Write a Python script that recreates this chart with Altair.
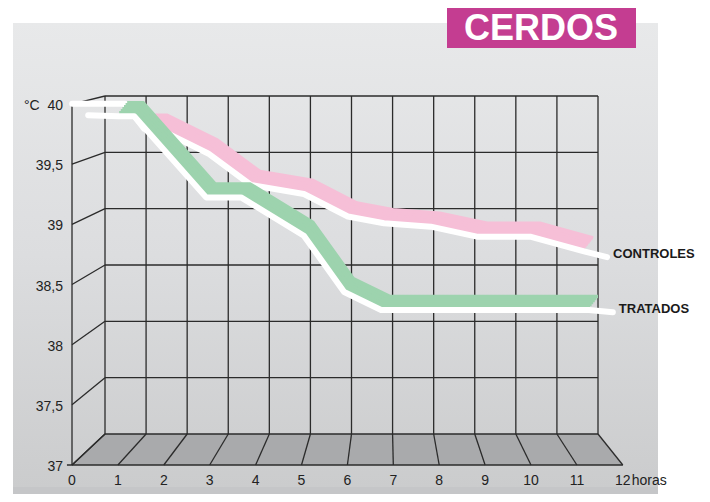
import altair as alt
import pandas as pd

# ---------------- data ----------------
HOURS = list(range(13))
HOUR_LABELS = [str(h) for h in HOURS]
TEMPS = [37.0, 37.5, 38.0, 38.5, 39.0, 39.5, 40.0]
TEMP_LABELS = ["37", "37,5", "38", "38,5", "39", "39,5", "40"]

# CONTROLES (pink ribbon), back edge on the rear wall
CTRL_H = [1.17, 1.51, 2.73, 3.77, 5.06, 6.13, 7.01, 8.15, 9.30, 10.59, 11.88]
CTRL_T = [39.83, 39.83, 39.61, 39.33, 39.25, 39.05, 38.99, 38.96, 38.87, 38.87, 38.74]
CTRL_LEAD_H = [-0.58, 0.71]
CTRL_LEAD_T = [40.05, 40.05]
CTRL_TRAIL_H = [12.44]
CTRL_TRAIL_T = [38.69]

# TRATADOS (green ribbon)
TRAT_H = [0.54, 0.93, 2.68, 3.53, 5.06, 6.04, 6.94, 12.0]
TRAT_T = [39.94, 39.94, 39.22, 39.22, 38.88, 38.38, 38.22, 38.22]
TRAT_LEAD_H = [-0.19]
TRAT_LEAD_T = [39.95]
TRAT_TRAIL_H = [12.58]
TRAT_TRAIL_T = [38.20]

SERIES_NAMES = ["CONTROLES", "TRATADOS"]

# ---------------- layout / style ----------------
W, H = 493, 338
XS, YS = W / 12.0, H / 3.0
FRONT_DX, FRONT_XS = -33.0, 45.9       # front plane (pixels rel. to rear wall)
FRONT_Y37, FRONT_YS = 369.0, 120.33

def front_h(h):
    return (FRONT_DX + FRONT_XS * h) / XS

def front_t(t):
    return 40 - (FRONT_Y37 - FRONT_YS * (t - 37)) / YS

FONT = "Liberation Sans"
GRID = "#2b2b2b"
PINK = "#f6bfd7"
GREEN = "#9dd3ae"
MAGENTA = "#c43d91"
FACE_DX, FACE_DY = -8.0, 10.0
WHITE_DX, WHITE_DY = -9.0, 13.5

XSCALE = alt.Scale(domain=[0, 12], nice=False, zero=False)
YSCALE = alt.Scale(domain=[37, 40], nice=False, zero=False)

def xenc(f):
    return alt.X(f"{f}:Q", scale=XSCALE, axis=None)

def yenc(f):
    return alt.Y(f"{f}:Q", scale=YSCALE, axis=None)

one = pd.DataFrame({"k": [0]})
layers = []

# panel background
grad = alt.LinearGradient(
    gradient="linear", x1=0, y1=0, x2=0, y2=1,
    stops=[alt.GradientStop(color="#e8e9ea", offset=0),
           alt.GradientStop(color="#dcdddf", offset=0.5),
           alt.GradientStop(color="#cbcccd", offset=1)])
layers.append(alt.Chart(one).mark_rect(color=grad).encode(
    x=alt.value(-92), x2=alt.value(553), y=alt.value(-73), y2=alt.value(391)))
layers.append(alt.Chart(one).mark_rect(color="#c5c6c8").encode(
    x=alt.value(-92), x2=alt.value(553), y=alt.value(391), y2=alt.value(400)))

# floor
floor = pd.DataFrame({
    "x": [front_h(0), 0, 12, front_h(12)],
    "y": [front_t(37), 37, 37, front_t(37)],
    "y2": [front_t(37)] * 4,
})
layers.append(alt.Chart(floor).mark_area(color="#a9aaac").encode(
    x=xenc("x"), y=yenc("y"), y2="y2:Q"))

# rear wall grid
vgrid = pd.DataFrame({"h": HOURS, "a": [37] * 13, "b": [40] * 13})
layers.append(alt.Chart(vgrid).mark_rule(color=GRID, strokeWidth=1.3).encode(
    x=xenc("h"), y=yenc("a"), y2="b:Q"))
hgrid = pd.DataFrame({"t": TEMPS, "a": [0] * 7, "b": [12] * 7})
layers.append(alt.Chart(hgrid).mark_rule(color=GRID, strokeWidth=1.3).encode(
    y=yenc("t"), x=xenc("a"), x2="b:Q"))

# perspective connectors
yconn = pd.DataFrame({"fx": [front_h(0)] * 7, "fy": [front_t(t) for t in TEMPS],
                      "bx": [0] * 7, "by": TEMPS})
xconn = pd.DataFrame({"fx": [front_h(h) for h in HOURS], "fy": [front_t(37)] * 13,
                      "bx": HOURS, "by": [37] * 13})
for df in (yconn, xconn):
    layers.append(alt.Chart(df).mark_rule(color=GRID, strokeWidth=1.3).encode(
        x=xenc("fx"), y=yenc("fy"), x2="bx:Q", y2="by:Q"))

# front axes
faxes = pd.DataFrame({"x": [front_h(0), front_h(-0.11)], "y": [front_t(37), front_t(37)],
                      "x2": [front_h(0), front_h(12)], "y2": [front_t(40), front_t(37)]})
layers.append(alt.Chart(faxes).mark_rule(color=GRID, strokeWidth=1.3).encode(
    x=xenc("x"), y=yenc("y"), x2="x2:Q", y2="y2:Q"))

# ribbons
def ribbon(h, t, lh, lt, th, tt, color):
    out = []
    face = pd.DataFrame({"h": h, "t": t, "i": list(range(len(h)))})
    for k in range(6):
        f = k / 5.0
        out.append(alt.Chart(face).mark_line(
            color=color, strokeWidth=3.5, strokeJoin="miter",
            xOffset=FACE_DX * f, yOffset=FACE_DY * f).encode(
            x=xenc("h"), y=yenc("t"), order="i:Q"))
    wh = lh + h + th
    wt = lt + t + tt
    white = pd.DataFrame({"h": wh, "t": wt, "i": list(range(len(wh)))})
    out.append(alt.Chart(white).mark_line(
        color="white", strokeWidth=6, strokeCap="round", strokeJoin="round",
        xOffset=WHITE_DX, yOffset=WHITE_DY).encode(
        x=xenc("h"), y=yenc("t"), order="i:Q"))
    return out

layers += ribbon(CTRL_H, CTRL_T, CTRL_LEAD_H, CTRL_LEAD_T, CTRL_TRAIL_H, CTRL_TRAIL_T, PINK)
layers += ribbon(TRAT_H, TRAT_T, TRAT_LEAD_H, TRAT_LEAD_T, TRAT_TRAIL_H, TRAT_TRAIL_T, GREEN)

# series labels
lab = pd.DataFrame({"h": [CTRL_TRAIL_H[0], TRAT_TRAIL_H[0]],
                    "t": [CTRL_TRAIL_T[0], TRAT_TRAIL_T[0]],
                    "s": SERIES_NAMES})
layers.append(alt.Chart(lab).mark_text(
    font=FONT, fontSize=13, fontWeight="bold", color="#1a1a1a",
    align="left", baseline="middle", dx=-3, dy=10).encode(
    x=xenc("h"), y=yenc("t"), text="s:N"))

# tick labels
ylab = pd.DataFrame({"x": [front_h(0)] * 7, "y": [front_t(t) for t in TEMPS], "s": TEMP_LABELS})
layers.append(alt.Chart(ylab).mark_text(
    font=FONT, fontSize=14, color="#222222", align="right", baseline="middle", dx=-9, dy=2).encode(
    x=xenc("x"), y=yenc("y"), text="s:N"))
unit = pd.DataFrame({"x": [front_h(0)], "y": [front_t(40)], "s": ["°C"]})
layers.append(alt.Chart(unit).mark_text(
    font=FONT, fontSize=14, color="#222222", align="left", baseline="middle", dx=-48, dy=2).encode(
    x=xenc("x"), y=yenc("y"), text="s:N"))
xlab = pd.DataFrame({"x": [front_h(h) for h in HOURS], "y": [front_t(37)] * 13, "s": HOUR_LABELS})
layers.append(alt.Chart(xlab).mark_text(
    font=FONT, fontSize=14, color="#222222", align="center", baseline="middle", dy=16).encode(
    x=xenc("x"), y=yenc("y"), text="s:N"))
horas = pd.DataFrame({"x": [front_h(12)], "y": [front_t(37)], "s": ["horas"]})
layers.append(alt.Chart(horas).mark_text(
    font=FONT, fontSize=14, color="#222222", align="left", baseline="middle", dx=9, dy=16).encode(
    x=xenc("x"), y=yenc("y"), text="s:N"))

# title box
layers.append(alt.Chart(one).mark_rect(color=MAGENTA).encode(
    x=alt.value(342), x2=alt.value(531), y=alt.value(-88), y2=alt.value(-48)))
ttl = pd.DataFrame({"s": ["CERDOS"]})
layers.append(alt.Chart(ttl).mark_text(
    font="Liberation Sans", fontSize=36, fontWeight="bold", color="white",
    align="center", baseline="middle").encode(
    x=alt.value(436), y=alt.value(-67), text="s:N"))

chart = alt.layer(*layers).properties(
    width=W, height=H,
    padding={"left": 97, "top": 88, "right": 104, "bottom": 60},
    autosize=alt.AutoSizeParams(type="none"),
).configure_view(stroke=None).configure(background="white")

chart.save("out.html", embed_options={"renderer": "svg", "actions": False})
